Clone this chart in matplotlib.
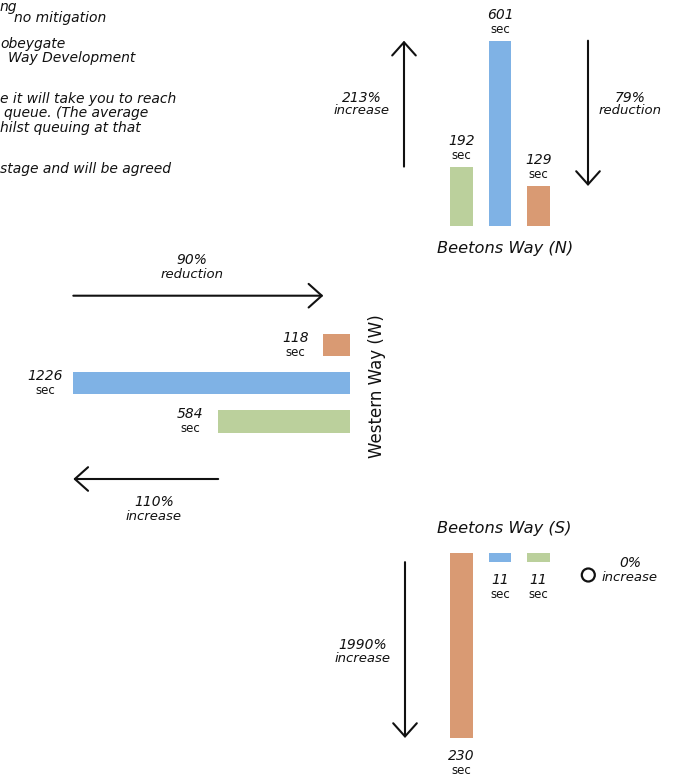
import matplotlib
matplotlib.use('Agg')
import matplotlib.pyplot as plt
import matplotlib.transforms as mtransforms
from matplotlib.patches import Circle

# ---------------- data ----------------
GREEN, BLUE, ORANGE = '#BBD09C', '#7FB2E5', '#D99A73'

north_values = [192, 601, 129]      # existing, without mitigation, with mitigation
north_colors = [GREEN, BLUE, ORANGE]
west_values = [118, 1226, 584]      # with mitigation, without mitigation, existing (top to bottom)
west_colors = [ORANGE, BLUE, GREEN]
south_values = [230, 11, 11]        # with mitigation, without mitigation, existing
south_colors = [ORANGE, BLUE, GREEN]

north_changes = [('213%', 'increase'), ('79%', 'reduction')]
west_changes = [('90%', 'reduction'), ('110%', 'increase')]
south_changes = [('1990%', 'increase'), ('0%', 'increase')]
approach_names = ['Beetons Way (N)', 'Western Way (W)', 'Beetons Way (S)']

legend_fragments = [
    'ng', 'no mitigation', 'obeygate', 'Way Development',
    'e it will take you to reach', 'queue. (The average',
    'hilst queuing at that', 'stage and will be agreed',
]

# ---------------- layout helpers ----------------
W, H = 683, 777
fig = plt.figure(figsize=(W / 100, H / 100), dpi=100)
px = mtransforms.Affine2D().scale(1 / W, -1 / H).translate(0, 1) + fig.transFigure
INK = '#111111'
ARROW = dict(arrowstyle='->,head_length=0.95,head_width=0.85', lw=1.5,
             color=INK, shrinkA=0, shrinkB=0)


def add_ax(l, t, r, b):
    ax = fig.add_axes([l / W, 1 - b / H, (r - l) / W, (b - t) / H])
    ax.set_axis_off()
    return ax


def two_line(x, y1, y2, top, bottom, s1=10, s2=9.5):
    fig.text(x, y1, top, transform=px, ha='center', va='center',
             style='italic', fontsize=s1, color=INK)
    fig.text(x, y2, bottom, transform=px, ha='center', va='center',
             style='italic', fontsize=s2, color=INK)


# ---------------- top-left (cropped) legend text ----------------
frag_pos = [(0, 7), (14, 18.3), (0, 44), (8, 58.3), (0, 99),
            (4, 113.3), (0, 127.7), (0, 169.3)]
for txt, (x, y) in zip(legend_fragments, frag_pos):
    fig.text(x, y, txt, transform=px, ha='left', va='center',
             style='italic', fontsize=10, color=INK)

# ---------------- North approach ----------------
ax_n = add_ax(442, 40.7, 558, 225.7)
ax_n.bar(range(len(north_values)), north_values, width=0.587, color=north_colors)
ax_n.set_xlim(-0.5, 2.5)
ax_n.set_ylim(0, max(north_values))
for i, v in enumerate(north_values):
    ax_n.annotate(str(v), (i, v), xytext=(0, 26), textcoords='offset pixels',
                  ha='center', va='center', style='italic', fontsize=10, color=INK)
    ax_n.annotate('sec', (i, v), xytext=(0, 11), textcoords='offset pixels',
                  ha='center', va='center', fontsize=8.5, color=INK)
bn = mtransforms.blended_transform_factory(px, ax_n.transData)
ax_n.annotate('', xy=(404, north_values[1]), xytext=(404, north_values[0]),
              xycoords=bn, textcoords=bn, arrowprops=ARROW, annotation_clip=False)
ax_n.annotate('', xy=(588, north_values[2]), xytext=(588, north_values[1]),
              xycoords=bn, textcoords=bn, arrowprops=ARROW, annotation_clip=False)
two_line(362, 97.7, 111, *north_changes[0])
two_line(630, 97.7, 111, *north_changes[1])
fig.text(505, 248, approach_names[0], transform=px, ha='center', va='center',
         style='italic', fontsize=11.7, color=INK)

# ---------------- West approach ----------------
ax_w = add_ax(73.3, 326, 350, 440.6)
ax_w.barh(range(len(west_values)), west_values, height=0.576, color=west_colors)
ax_w.set_xlim(max(west_values), 0)
ax_w.set_ylim(2.5, -0.5)
for i, v in enumerate(west_values):
    ax_w.annotate(str(v), (v, i), xytext=(-28, 7), textcoords='offset pixels',
                  ha='center', va='center', style='italic', fontsize=10, color=INK)
    ax_w.annotate('sec', (v, i), xytext=(-28, -7.5), textcoords='offset pixels',
                  ha='center', va='center', fontsize=8.5, color=INK)
bw = mtransforms.blended_transform_factory(ax_w.transData, px)
ax_w.annotate('', xy=(west_values[0], 295.7), xytext=(west_values[1], 295.7),
              xycoords=bw, textcoords=bw, arrowprops=ARROW, annotation_clip=False)
ax_w.annotate('', xy=(west_values[1], 479), xytext=(west_values[2], 479),
              xycoords=bw, textcoords=bw, arrowprops=ARROW, annotation_clip=False)
two_line(191.7, 260, 274.3, *west_changes[0])
two_line(154, 502.3, 516.7, *west_changes[1])
fig.text(376.7, 385.7, approach_names[1], transform=px, ha='center', va='center',
         rotation=90, fontsize=12, color=INK)

# ---------------- South approach ----------------
ax_s = add_ax(442, 553.3, 558, 738)
ax_s.bar(range(len(south_values)), south_values, width=0.587, color=south_colors)
ax_s.set_xlim(-0.5, 2.5)
ax_s.set_ylim(max(south_values), 0)
for i, v in enumerate(south_values):
    ax_s.annotate(str(v), (i, v), xytext=(0, -18), textcoords='offset pixels',
                  ha='center', va='center', style='italic', fontsize=10, color=INK)
    ax_s.annotate('sec', (i, v), xytext=(0, -32.5), textcoords='offset pixels',
                  ha='center', va='center', fontsize=8.5, color=INK)
bs = mtransforms.blended_transform_factory(px, ax_s.transData)
ax_s.annotate('', xy=(405, south_values[0]), xytext=(405, south_values[1]),
              xycoords=bs, textcoords=bs, arrowprops=ARROW, annotation_clip=False)
two_line(362.3, 645, 659, *south_changes[0])
fig.add_artist(Circle((588.3, 575), 6.5, transform=px, fill=False, lw=1.6,
                      edgecolor=INK))
two_line(630, 562.7, 577.7, *south_changes[1])
fig.text(504, 528.3, approach_names[2], transform=px, ha='center', va='center',
         style='italic', fontsize=11.7, color=INK)

fig.savefig('out.png', dpi=100, facecolor='white')
